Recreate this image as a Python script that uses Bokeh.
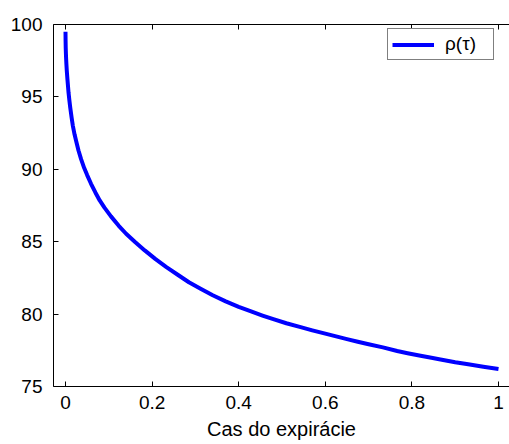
from bokeh.plotting import figure
from bokeh.models import Range1d, LinearAxis, FixedTicker, Legend, LegendItem
from bokeh.embed import file_html
from bokeh.resources import INLINE

# time to expiry (years) and the rho(tau) curve
tau = [0.0, 0.0002, 0.0005, 0.001, 0.0015, 0.002, 0.003, 0.0045, 0.007, 0.009,
       0.011, 0.014, 0.017, 0.021, 0.025, 0.030, 0.036, 0.043, 0.05, 0.059,
       0.069, 0.079, 0.09, 0.105, 0.123, 0.14, 0.16, 0.183, 0.208, 0.233,
       0.26, 0.285, 0.312, 0.34, 0.37, 0.4, 0.427, 0.455, 0.48, 0.51,
       0.543, 0.57, 0.6, 0.625, 0.65, 0.675, 0.7, 0.733, 0.766, 0.79,
       0.82, 0.845, 0.866, 0.9, 0.93, 0.965, 1.0]
rho = [99.5, 98.9, 98.4, 97.95, 97.6, 97.3, 96.8, 96.2, 95.3, 94.75,
       94.25, 93.6, 93.0, 92.4, 91.9, 91.3, 90.7, 90.1, 89.6, 89.0,
       88.4, 87.85, 87.35, 86.75, 86.1, 85.55, 85.0, 84.4, 83.8, 83.25,
       82.7, 82.2, 81.75, 81.3, 80.88, 80.5, 80.2, 79.9, 79.65, 79.37,
       79.1, 78.88, 78.65, 78.46, 78.27, 78.09, 77.92, 77.7, 77.45, 77.3,
       77.12, 76.98, 76.87, 76.68, 76.535, 76.37, 76.21]

x_ticks = [0, 0.2, 0.4, 0.6, 0.8, 1]
x_tick_labels = {0: "0", 0.2: "0.2", 0.4: "0.4", 0.6: "0.6", 0.8: "0.8", 1: "1"}
y_ticks = [75, 80, 85, 90, 95, 100]

FONT = "Liberation Sans"
TICK_SIZE = "19px"

p = figure(width=509, height=444, output_backend="svg", toolbar_location=None,
           x_range=Range1d(-12 / 433, 444 / 433), y_range=Range1d(75, 100),
           min_border_left=53, min_border_right=0, min_border_top=24,
           min_border_bottom=58, outline_line_color=None,
           background_fill_color="white", border_fill_color="white")
p.grid.visible = False

r = p.line(tau, rho, line_color="#0000ff", line_width=4, line_join="round")


def style_axis(ax):
    ax.axis_line_color = "black"
    ax.axis_line_width = 1
    ax.major_tick_in = 5
    ax.major_tick_out = 0
    ax.minor_tick_in = 0
    ax.minor_tick_out = 0
    ax.major_tick_line_color = "black"
    ax.major_label_text_font = FONT
    ax.major_label_text_color = "black"
    ax.major_label_text_font_size = TICK_SIZE


xa = p.xaxis[0]
style_axis(xa)
xa.ticker = FixedTicker(ticks=x_ticks)
xa.major_label_overrides = x_tick_labels
xa.major_label_standoff = 9
xa.axis_label = "Cas do expirácie"
xa.axis_label_text_font = FONT
xa.axis_label_text_font_size = "20px"
xa.axis_label_text_font_style = "normal"
xa.axis_label_text_color = "black"
xa.axis_label_standoff = 6

ya = p.yaxis[0]
style_axis(ya)
ya.ticker = FixedTicker(ticks=y_ticks)
ya.major_label_standoff = 11

# box edge along the top: ticks only, no labels
top = LinearAxis(ticker=FixedTicker(ticks=x_ticks))
style_axis(top)
top.major_label_overrides = {t: "" for t in x_ticks}
top.major_label_standoff = 0
p.add_layout(top, "above")

legend = Legend(items=[LegendItem(label="ρ(τ)", renderers=[r])],
                location=(334, 326), margin=0, padding=4,
                glyph_width=42, glyph_height=19, label_height=19,
                label_width=44, label_standoff=11,
                label_text_font=FONT, label_text_font_size=TICK_SIZE,
                label_text_color="black",
                border_line_color="black", border_line_width=1,
                background_fill_color="white", background_fill_alpha=1.0)
p.add_layout(legend)

open("out.html", "w").write(file_html(p, INLINE))
